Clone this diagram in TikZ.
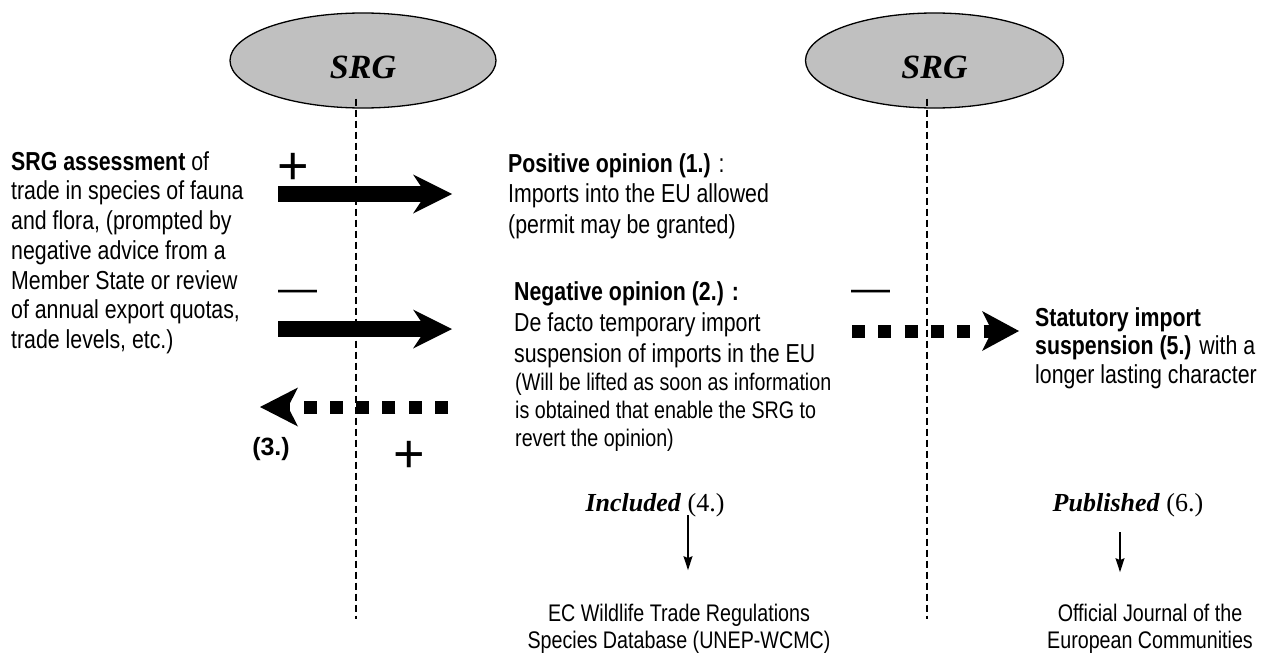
\documentclass[tikz,border=0pt]{standalone}
\usepackage{fontspec}
\setmainfont{Liberation Sans}[FakeStretch=0.82]
\newfontfamily\timesface{Liberation Serif}
\newfontfamily\plainsans{Liberation Sans}
\usetikzlibrary{arrows.meta}
\usetikzlibrary{positioning}
\usetikzlibrary{shapes.geometric}
\definecolor{srggray}{RGB}{192,192,192}

\begin{document}
\begin{tikzpicture}[x=1pt,y=-1pt,
  srg/.style={ellipse,draw,line width=1.3pt,fill=srggray,
      minimum width=266pt,minimum height=95pt,inner sep=0pt,
      font=\timesface\bfseries\itshape\fontsize{34}{40}\selectfont,
      text height=35pt,text depth=0pt},
  txt/.style={align=left,anchor=north west,inner sep=0pt,
      font=\fontsize{26}{30}\selectfont},
  note/.style={align=center,anchor=north,inner sep=0pt,
      font=\fontsize{24}{27}\selectfont},
  ser/.style={anchor=base,inner sep=0pt,
      font=\timesface\fontsize{26}{30}\selectfont},
  plussign/.style={anchor=base,inner sep=0pt,font=\plainsans\fontsize{54}{54}\selectfont},
  minussign/.style={anchor=base,inner sep=0pt,font=\plainsans\fontsize{39}{39}\selectfont},
  sep/.style={line width=1.2pt,dash pattern=on 7pt off 4pt},
  bigarrow/.style={line width=16pt,
      -{Stealth[length=39pt,width=39pt,inset=13pt,line width=0pt]}},
  dotarrow/.style={line width=13pt,dash pattern=on 13pt off 13.3pt,
      -{Stealth[length=38pt,width=39pt,inset=10pt,line width=0pt]}},
  downarr/.style={line width=1.3pt,-{Stealth[length=14pt,width=9pt,inset=2pt]}}
]
  \useasboundingbox (0,0) rectangle (1287,653);

  % the two SRG stages
  \node[srg] (srg_1) at (363,60.5) {SRG};
  \node[srg,minimum width=258pt] (srg_2) at (934.5,60.5) {SRG};
  \draw[sep] ([xshift=-7pt,yshift=10pt]srg_1.south) -- ++(0,520);
  \draw[sep] ([xshift=-7.5pt,yshift=10pt]srg_2.south) -- ++(0,520);

  % texts
  \node[txt,font=\fontsize{26}{29.7}\selectfont] (assess) at (11,150)
    {\rule{0pt}{20pt}\textbf{SRG assessment} of\\trade in species of fauna\\and flora, (prompted by\\negative advice from a\\Member State or review\\of annual export quotas,\\trade levels, etc.)};
  \node[txt,font=\fontsize{26}{30.5}\selectfont] (pos_op) at (508,152)
    {\rule{0pt}{20pt}\textbf{Positive opinion (1.)} :\\Imports into the EU allowed\\(permit may be granted)};
  \node[txt,font=\fontsize{26}{31}\selectfont] (neg_op) at (514,280)
    {\rule{0pt}{20pt}\textbf{Negative opinion (2.) :}\\De facto temporary import\\suspension of imports in the EU};
  \node[txt,font=\fontsize{24}{28}\selectfont] (neg_note) at (515,371)
    {\rule{0pt}{19pt}(Will be lifted as soon as information\\is obtained that enable the SRG to\\revert the opinion)};
  \node[txt,font=\fontsize{26}{28.5}\selectfont] (stat_susp) at (1035,306)
    {\rule{0pt}{20pt}\textbf{Statutory import}\\\textbf{suspension (5.)} with a\\longer lasting character};

  \node[ser] (incl) at (655,511) {\textbf{\itshape Included} (4.)};
  \node[ser] (publ) at (1128,511) {\textbf{\itshape Published} (6.)};
  \node[note] (ec_db) at (679,603)
    {\rule{0pt}{18pt}EC Wildlife Trade Regulations\\Species Database (UNEP-WCMC)};
  \node[note] (oj) at (1150,603)
    {\rule{0pt}{18pt}Official Journal of the\\European Communities};

  % signs
  \node[plussign] (plus_1) at (293,184) {+};
  \node[minussign] (minus_1) at (298,301.5) {—};
  \node[minussign] (minus_2) at (870.5,301.5) {—};
  \node[plussign] (plus_2) at (409,472) {+};
  \node[anchor=base,inner sep=0pt,font=\plainsans\bfseries\fontsize{25}{30}\selectfont] (num_3) at (271,455) {(3.)};

  % arrows
  \coordinate (pos_a) at (278,194);
  \coordinate (pos_b) at (452,194);
  \coordinate (neg_a) at (278,329);
  \coordinate (neg_b) at (452,329);
  \coordinate (rev_a) at (448,407);
  \coordinate (rev_b) at (260,407);
  \coordinate (stat_a) at (852,331);
  \coordinate (stat_b) at (1019,331);
  \draw[bigarrow] (pos_a) -- (pos_b);
  \draw[bigarrow] (neg_a) -- (neg_b);
  \draw[dotarrow] (rev_a) -- (rev_b);
  \draw[dotarrow,-{Stealth[length=37pt,width=40pt,inset=10pt,line width=0pt]}] (stat_a) -- (stat_b);

  \draw[downarr] ([xshift=33pt,yshift=1.6pt]incl.south) -- ++(0,55);
  \draw[downarr] ([xshift=-8pt,yshift=-15.4pt]publ.south) -- ++(0,40);
\end{tikzpicture}
\end{document}
